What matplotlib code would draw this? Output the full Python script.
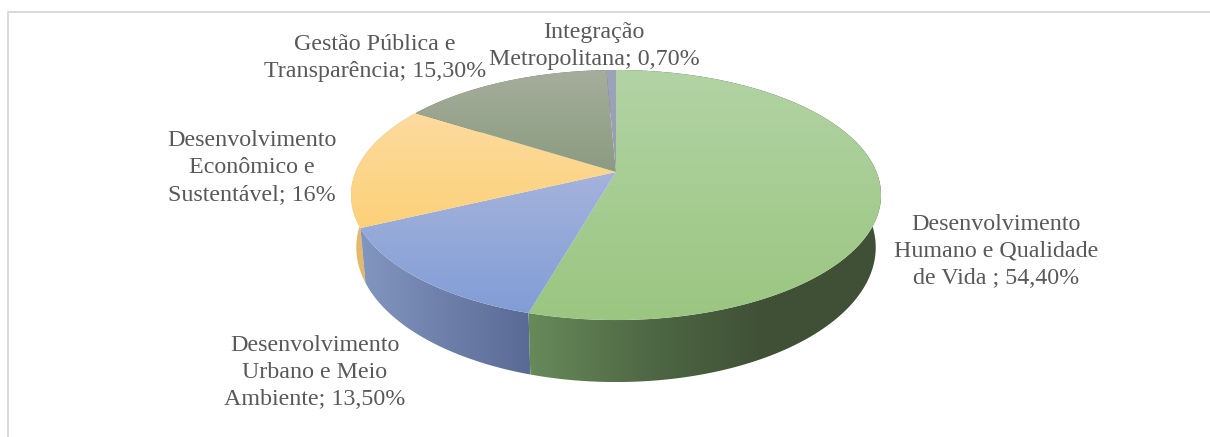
import numpy as np
import matplotlib
matplotlib.use('Agg')
import matplotlib.pyplot as plt
from matplotlib.colors import to_rgb
from matplotlib.patches import Polygon

labels = [
    'Desenvolvimento\nHumano e Qualidade\nde Vida ; 54,40%',
    'Desenvolvimento\nUrbano e Meio\nAmbiente; 13,50%',
    'Desenvolvimento\nEconômico e\nSustentável; 16%',
    'Gestão Pública e\nTransparência; 15,30%',
    'Integração\nMetropolitana; 0,70%',
]
shares = [54.4, 13.5, 16.0, 15.3, 0.7]

# top face colours (far to near), wall colours (left to right)
top_colors = [['#b2d3a4', '#9bc681'], ['#a5b3dc', '#829dd6'], ['#fddb9f', '#fcd179'],
              ['#a5ae9c', '#8b9b80'], ['#9da4ba', '#959db5']]
wall_colors = [['#678a5a', '#4f6845', '#3f5036', '#3f5036'], ['#8296c0', '#5a6a94'],
               ['#e6bb6c', '#dcae5c'], ['#6b7560', '#6b7560'], ['#6b7080', '#6b7080']]
# center x, baseline y of the last line
label_pos = [(996, 284), (315, 405), (252, 200), (375, 77), (594, 65)]

# view of the tilted disc
CX, CY = 616, 172
A, B, K = 260.5, 120.8, 0.184
WALL = 50.6
SHRINK = 0.98


def project(theta):
    # clockwise from 12 o'clock, with perspective so the far half looks smaller
    u, v = np.sin(theta), np.cos(theta)
    w = 1 + K * v
    return CX + A * u / w, CY - B * v / w, w


def gradient(ax, patch, colors, vertical):
    x, y = patch.get_xy().T
    stops = np.array([to_rgb(c) for c in colors])
    pos = np.linspace(0, 1, 128)
    ramp = np.column_stack([np.interp(pos, np.linspace(0, 1, len(stops)), stops[:, j]) for j in range(3)])
    img = ramp[:, None, :] if vertical else ramp[None, :, :]
    ax.add_patch(patch)
    patch.set_visible(False)
    im = ax.imshow(img, extent=(x.min(), x.max(), y.max(), y.min()), aspect='auto',
                   interpolation='bilinear', zorder=patch.get_zorder())
    im.set_clip_path(patch.get_path(), patch.get_transform())


fig, ax = plt.subplots(figsize=(12.1, 4.37), dpi=100)
fig.subplots_adjust(0, 0, 1, 1)
ax.axis('off')

fracs = np.array(shares) / sum(shares)
edges = np.concatenate([[0], np.cumsum(fracs)]) * 2 * np.pi

# walls first, the top faces cover whatever is behind
for i in [3, 4, 2, 1, 0]:
    t = np.linspace(edges[i], edges[i + 1], 200)
    x, y, w = project(t)
    xb = CX + (x - CX) * SHRINK
    yb = y + WALL / w
    pts = np.column_stack([np.r_[x, xb[::-1]], np.r_[y, yb[::-1]]])
    gradient(ax, Polygon(pts, closed=True, zorder=2 + 0.1 * (4 - i)), wall_colors[i], False)

for i in range(5):
    t = np.linspace(edges[i], edges[i + 1], 200)
    x, y, w = project(t)
    pts = np.column_stack([np.r_[CX, x], np.r_[CY, y]])
    gradient(ax, Polygon(pts, closed=True, zorder=4), top_colors[i], True)

for text, (lx, ly) in zip(labels, label_pos):
    ax.text(lx, ly, text, ha='center', va='baseline', fontsize=17.3, color='#595959',
            family='Liberation Serif', linespacing=1.38, zorder=6)

# chart frame, the crop cuts off its right and bottom sides
ax.plot([7.5, 7.5, 1210], [437, 11.5, 11.5], color='#d9d9d9', linewidth=1.4, zorder=1)

ax.set_xlim(0, 1210)
ax.set_ylim(437, 0)
fig.savefig('out.png', dpi=100)
